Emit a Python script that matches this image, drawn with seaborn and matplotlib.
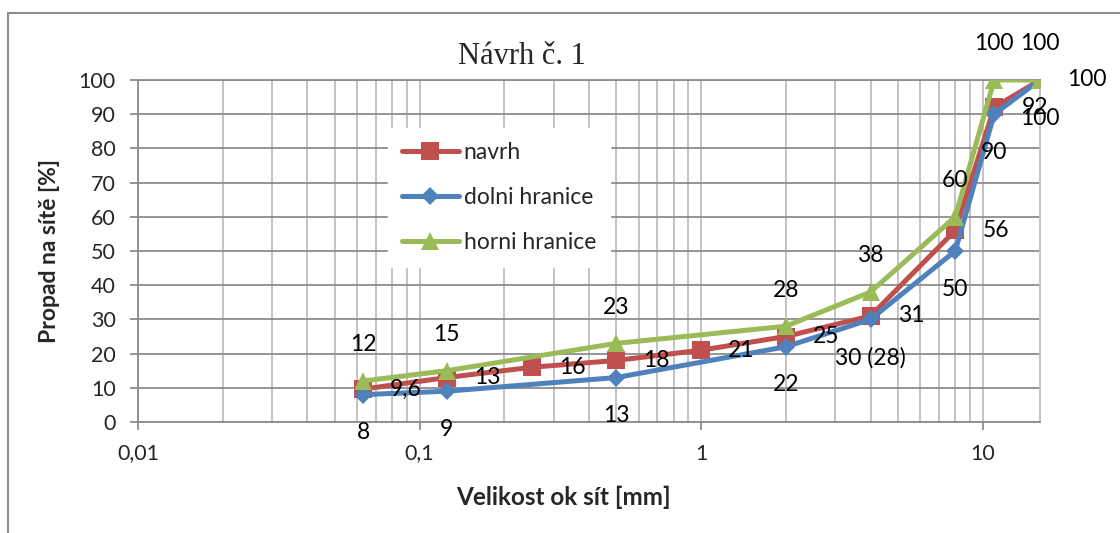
import matplotlib
matplotlib.use('Agg')

import pandas as pd
import numpy as np
import seaborn as sns
import matplotlib.pyplot as plt
from matplotlib.ticker import LogLocator, NullFormatter, FixedLocator
from matplotlib.lines import Line2D

# sieve sizes [mm] and passing [%]
sita_navrh = [0.063, 0.125, 0.25, 0.5, 1, 2, 4, 8, 11, 16]
navrh = [9.6, 13, 16, 18, 21, 25, 31, 56, 92, 100]

sita_meze = [0.063, 0.125, 0.5, 2, 4, 8, 11, 16]
dolni = [8, 9, 13, 22, 30, 50, 90, 100]
horni = [12, 15, 23, 28, 38, 60, 100, 100]

# data labels as shown in the chart
lbl_navrh = ['9,6', '13', '16', '18', '21', '25', '31', '56', '92', '100']
lbl_dolni = ['8', '9', '13', '22', '30 (28)', '50', '90', '100']
lbl_horni = ['12', '15', '23', '28', '38', '60', '100', '100']

x_ticks = [0.01, 0.1, 1, 10]
x_ticklabels = ['0,01', '0,1', '1', '10']
y_ticks = list(range(0, 101, 10))

RED = '#C0504D'
BLUE = '#4F81BD'
GREEN = '#9BBB59'

sns.set_theme(style='white')
plt.rcParams['font.family'] = ['Lato', 'DejaVu Sans']

df_n = pd.DataFrame({'x': sita_navrh, 'y': navrh})
df_d = pd.DataFrame({'x': sita_meze, 'y': dolni})
df_h = pd.DataFrame({'x': sita_meze, 'y': horni})

fig = plt.figure(figsize=(11.2, 5.33), dpi=100)
ax = fig.add_axes([138 / 1120, 1 - 422 / 533, (1040 - 138) / 1120, (422 - 80) / 533])

ax.set_xscale('log')
ax.set_xlim(0.01, 16)
ax.set_ylim(0, 100)

sns.lineplot(data=df_n, x='x', y='y', ax=ax, color=RED, lw=3.6, marker='s',
             markersize=13, markeredgewidth=0, label='navrh', zorder=3)
sns.lineplot(data=df_d, x='x', y='y', ax=ax, color=BLUE, lw=3.6, marker='D',
             markersize=9.5, markeredgewidth=0, label='dolni hranice', zorder=4)
sns.lineplot(data=df_h, x='x', y='y', ax=ax, color=GREEN, lw=3.6, marker='^',
             markersize=13, markeredgewidth=0, label='horni hranice', zorder=5)

fs = 16.5
for x, y, t in zip(sita_navrh, navrh, lbl_navrh):
    ax.annotate(t, (x, y), xytext=(19.5, 0), textcoords='offset points',
                ha='left', va='center', fontsize=fs, color='black', zorder=6,
                annotation_clip=False)
for x, y, t in zip(sita_meze, dolni, lbl_dolni):
    ax.annotate(t, (x, y), xytext=(0, -27.5), textcoords='offset points',
                ha='center', va='center', fontsize=fs, color='black', zorder=6,
                annotation_clip=False)
for x, y, t in zip(sita_meze, horni, lbl_horni):
    ax.annotate(t, (x, y), xytext=(0, 26), textcoords='offset points',
                ha='center', va='center', fontsize=fs, color='black', zorder=6,
                annotation_clip=False)

# grid
ax.xaxis.set_major_locator(FixedLocator(x_ticks))
ax.set_xticklabels(x_ticklabels)
ax.xaxis.set_minor_locator(LogLocator(base=10, subs=np.arange(2, 10)))
ax.xaxis.set_minor_formatter(NullFormatter())
ax.set_yticks(y_ticks)
ax.grid(axis='x', which='both', color='#BEBEBE', lw=1.3)
ax.grid(axis='y', which='major', color='#8C8C8C', lw=1.3)
ax.set_axisbelow(True)

ax.tick_params(axis='x', which='major', length=6, width=1.3, color='#8C8C8C',
               direction='out', pad=9.5, labelsize=15.5, bottom=True)
ax.tick_params(axis='x', which='minor', length=0)
ax.tick_params(axis='y', length=6, width=1.3, color='#8C8C8C', direction='out',
               pad=10, labelsize=15.5, left=True)

for s in ['left', 'bottom', 'top']:
    ax.spines[s].set_color('#8C8C8C')
    ax.spines[s].set_linewidth(1.3)
ax.spines['right'].set_color('#BEBEBE')
ax.spines['right'].set_linewidth(1.3)

ax.set_xlabel('')
ax.set_ylabel('')
fig.text(563 / 1120, 1 - 497 / 533, 'Velikost ok sít [mm]', ha='center', va='center',
         fontsize=17.5, fontweight='bold')
fig.text(50 / 1120, 1 - 251 / 533, 'Propad na sítě [%]', ha='center', va='center',
         rotation=90, fontsize=16.5, fontweight='bold')
fig.text(522 / 1120, 1 - 57 / 533, 'Návrh č. 1', ha='center', va='center',
         fontsize=22, family=['Liberation Serif', 'DejaVu Serif'])

leg = ax.legend(loc='upper left', bbox_to_anchor=(388 / 1120, 1 - 128 / 533),
                bbox_transform=fig.transFigure, frameon=True, fontsize=fs,
                handlelength=2.5, handletextpad=0.2, labelspacing=1.05,
                borderpad=0.6, borderaxespad=0, fancybox=False)
leg.get_frame().set_facecolor('white')
leg.get_frame().set_edgecolor('white')
leg.get_frame().set_alpha(1)

# outer chart frame (top and left only visible)
fig.add_artist(Line2D([8 / 1120, 8 / 1120], [0, 1 - 13 / 533], transform=fig.transFigure,
                      color='#8C8C8C', lw=1.5))
fig.add_artist(Line2D([8 / 1120, 1], [1 - 13 / 533, 1 - 13 / 533], transform=fig.transFigure,
                      color='#8C8C8C', lw=1.5))

fig.savefig('out.png', dpi=100)
